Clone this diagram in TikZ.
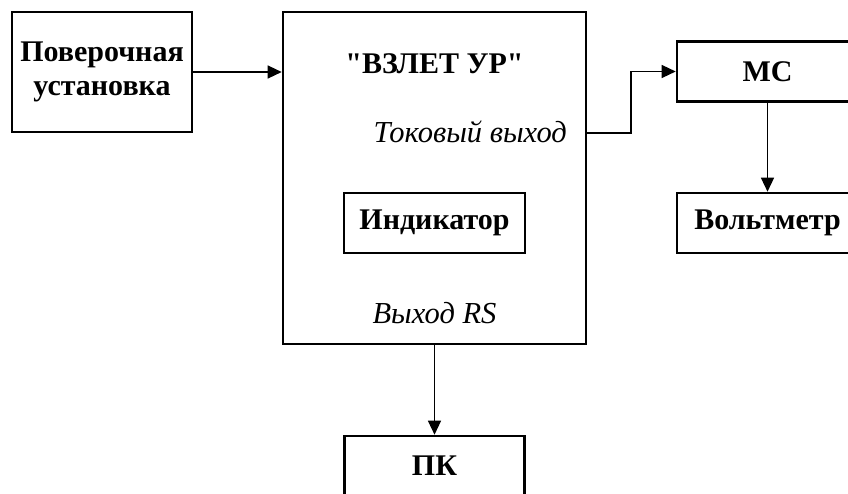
\documentclass[tikz,border=0pt]{standalone}
\usepackage{fontspec}
\setmainfont{Liberation Serif}[Ligatures=TeXOff]
\usetikzlibrary{arrows.meta}
\begin{document}
\begin{tikzpicture}[x=1pt,y=-1pt,
  box/.style={draw,line width=2.6pt,rectangle,inner sep=0pt,
    font=\fontsize{30}{34}\selectfont\bfseries,align=center},
  conn/.style={line width=1.3pt,-{Triangle[length=14pt,width=13pt]}},
  lbl/.style={font=\fontsize{30.5}{34}\selectfont\itshape,inner sep=0pt},
  ttl/.style={font=\fontsize{30}{34}\selectfont\bfseries,inner sep=0pt}]
\useasboundingbox (0,0) rectangle (848,493);
\clip (0,0) rectangle (848,493);
\node[box,minimum width=180pt,minimum height=120pt] (pov) at (102,72) {Поверочная\\установка};
\node[box,minimum width=303pt,minimum height=332pt] (main) at (434.5,178) {};
\node[ttl,anchor=base] (title) at (434.5,73) {"ВЗЛЕТ УР"};
\node[lbl,anchor=base east] (tok) at (567,142) {Токовый выход};
\node[lbl,anchor=base] (rs) at (434.5,323) {Выход RS};
\node[box,minimum width=181pt,minimum height=60pt] (ind) at (434.5,223) {Индикатор};
\node[box,minimum width=181pt,minimum height=60pt] (mc) at (767.5,71.5) {МС};
\node[box,minimum width=181pt,minimum height=60pt] (volt) at (767.5,223) {Вольтметр};
\node[box,minimum width=180pt,minimum height=60pt] (pk) at (434.5,466) {ПК};
\coordinate (ty) at (600,133);
\coordinate (bend) at (631,100);
\draw[conn] (pov.east) -- (pov.east -| main.west);
\draw[conn] (main.east |- ty) -| (bend) |- (mc.west);
\draw[conn] (mc.south) -- (volt.north);
\draw[conn] (main.south) -- (pk.north);
\end{tikzpicture}
\end{document}
